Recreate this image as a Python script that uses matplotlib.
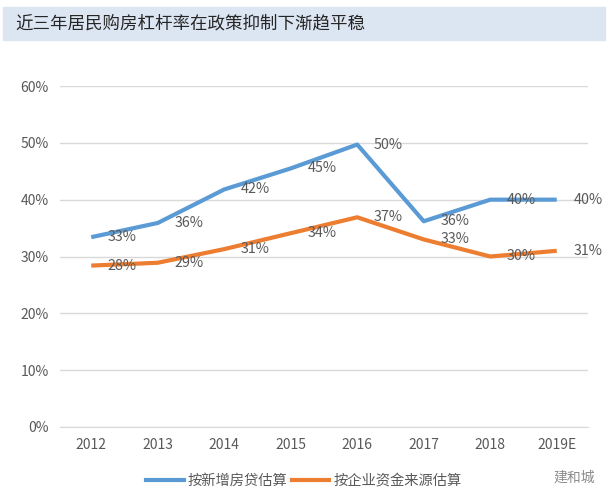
import matplotlib.pyplot as plt
from matplotlib.patches import Rectangle
import matplotlib.lines as mlines

plt.rcParams['font.family'] = ['Noto Sans CJK SC', 'DejaVu Sans']

years = ['2012', '2013', '2014', '2015', '2016', '2017', '2018', '2019E']
by_mortgage = [0.334, 0.359, 0.418, 0.455, 0.497, 0.362, 0.40, 0.40]
by_funding = [0.284, 0.289, 0.313, 0.341, 0.369, 0.330, 0.300, 0.310]
mortgage_labels = ['33%', '36%', '42%', '45%', '50%', '36%', '40%', '40%']
funding_labels = ['28%', '29%', '31%', '34%', '37%', '33%', '30%', '31%']

blue = '#5b9bd5'
orange = '#ed7d31'
txt = '#595959'

fig = plt.figure(figsize=(6.14, 5.04), dpi=100)

# title bar
fig.patches.append(Rectangle((3 / 614, 1 - 40 / 504), 602 / 614, 33 / 504,
                             transform=fig.transFigure, color='#dce6f2', zorder=0))
fig.text(15 / 614, 1 - 23 / 504, '近三年居民购房杠杆率在政策抑制下渐趋平稳',
         fontsize=12.6, color='#262626', va='center', ha='left')

ax = fig.add_axes([60 / 614, 1 - 427 / 504, 528 / 614, 341 / 504])
x = range(len(years))
ax.plot(x, by_mortgage, color=blue, lw=3, solid_capstyle='butt', zorder=3)
ax.plot(x, by_funding, color=orange, lw=3, solid_capstyle='butt', zorder=3)

for i in x:
    ax.annotate(mortgage_labels[i], (i, by_mortgage[i]), xytext=(12, 0),
                textcoords='offset points', va='center', ha='left',
                fontsize=10.3, color=txt, zorder=4)
    ax.annotate(funding_labels[i], (i, by_funding[i]), xytext=(12, 0),
                textcoords='offset points', va='center', ha='left',
                fontsize=10.3, color=txt, zorder=4)

ax.set_xlim(-0.47, len(years) - 0.53)
ax.set_ylim(0, 0.6)
ax.set_yticks([0, 0.1, 0.2, 0.3, 0.4, 0.5, 0.6])
ax.set_yticklabels(['0%', '10%', '20%', '30%', '40%', '50%', '60%'])
ax.set_xticks(list(x))
ax.set_xticklabels(years)
ax.tick_params(length=0, labelsize=10, labelcolor=txt, pad=8)
ax.grid(axis='y', color='#d9d9d9', lw=1)
ax.set_axisbelow(True)
for s in ['top', 'right', 'left']:
    ax.spines[s].set_visible(False)
ax.spines['bottom'].set_color('#d9d9d9')

blue_line = mlines.Line2D([], [], color=blue, lw=3, label='按新增房贷估算')
orange_line = mlines.Line2D([], [], color=orange, lw=3, label='按企业资金来源估算')
fig.legend(handles=[blue_line, orange_line], loc='center',
           bbox_to_anchor=(304 / 614, 1 - 481 / 504), ncol=2, frameon=False,
           fontsize=10.3, labelcolor=txt, handlelength=2.6, handletextpad=0.3,
           columnspacing=0.3)

fig.text(595 / 614, 1 - 478 / 504, '建和城', fontsize=10, color='#8c8c8c',
         ha='right', va='center')

fig.savefig('out.png', dpi=100)
